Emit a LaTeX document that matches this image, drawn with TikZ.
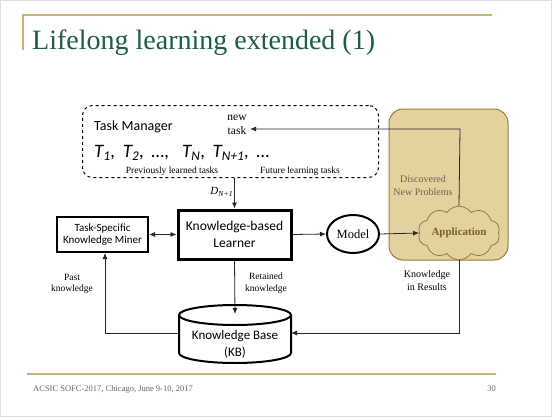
\documentclass[tikz,border=0pt]{standalone}
\usepackage{fontspec}
\setmainfont{Liberation Serif}
\setsansfont{Carlito}
\usetikzlibrary{shapes.geometric,shapes.symbols,arrows.meta}
\definecolor{titlegreen}{RGB}{28,92,72}
\definecolor{goldline}{RGB}{196,180,120}
\definecolor{appfill}{RGB}{228,210,158}
\definecolor{appdraw}{RGB}{150,125,60}
\definecolor{apptext}{RGB}{120,95,45}
\definecolor{softtext}{RGB}{110,100,85}
\tikzset{
  conn/.style={line width=0.8pt, draw=black!85},
  arr/.style={conn, -{Latex[length=6pt,width=5pt]}},
  sbox/.style={draw, line width=2pt, align=center, font=\sffamily\fontsize{11}{12.5}\selectfont},
  lbox/.style={draw, line width=3pt, align=center, font=\sffamily\fontsize{13.5}{17}\selectfont},
  small/.style={align=center, font=\fontsize{9.5}{11.5}\selectfont},
}
\newcommand{\sub}[1]{\textsubscript{#1}}
\begin{document}
\begin{tikzpicture}[x=1pt,y=-1pt]
\useasboundingbox (0,0) rectangle (553,417);
\fill[white] (0,0) rectangle (553,417);
\draw[black!12, line width=1pt] (0.5,0.5) rectangle (551,416);
% title
\draw[goldline, line width=1.2pt] (23,50) -- (23,15) -- (492,15);
\node[anchor=base west, text=titlegreen, font=\fontsize{28}{30}\selectfont, inner sep=0] (title) at (32,50) {Lifelong learning extended (1)};
% footer
\draw[goldline, line width=1.2pt] (27,374) -- (496,374);
\node[anchor=base west, text=black!60, font=\fontsize{8.5}{10}\selectfont, inner sep=0] (foot) at (33,391) {ACSIC SOFC-2017, Chicago, June 9-10, 2017};
\node[anchor=base east, text=black!60, font=\fontsize{8.5}{10}\selectfont, inner sep=0] (page) at (496,391) {30};
% application panel
\node[draw=appdraw, fill=appfill, rounded corners=14pt, line width=1pt, minimum width=119pt, minimum height=151pt] (panel) at (448.5,184.5) {};
\node[small, text=softtext, font=\fontsize{10}{13}\selectfont] (disc) at (423,186) {Discovered\\New Problems};
\node[cloud, cloud puffs=10, cloud puff arc=110, aspect=1.8, draw=appdraw, fill=appfill, line width=0.8pt, minimum width=82pt, minimum height=46pt, inner sep=0, text=apptext, font=\bfseries\fontsize{11}{13}\selectfont] (app) at (459,233) {Application};
% task manager
\node[draw, dashed, line width=1pt, rounded corners=10pt, minimum width=296pt, minimum height=72pt] (tm) at (230.5,141.5) {};
\node[anchor=west, font=\sffamily\fontsize{14}{16}\selectfont, inner sep=0] (tmlabel) at (94,127) {Task Manager};
\node[small, font=\fontsize{11.5}{13.5}\selectfont] (newtask) at (237,125) {new\\task};
\node[anchor=west, font=\sffamily\itshape\fontsize{19}{21}\selectfont, inner sep=0] (tasks) at (94,153) {T\sub{1},\, T\sub{2},\, \ldots,\;\, T\sub{N},\, T\sub{N+1},\, \ldots};
\node[small, font=\fontsize{9.5}{11}\selectfont] (prev) at (172,171) {Previously learned tasks};
\node[small, font=\fontsize{9.5}{11}\selectfont] (fut) at (300,171) {Future learning tasks};
% learner, miner, model
\node[lbox, minimum width=113pt, minimum height=49pt] (learner) at (234.5,234.5) {Knowledge-based\\Learner};
\node[sbox, minimum width=91pt, minimum height=35pt] (miner) at (102.5,234.5) {Task-Specific\\Knowledge Miner};
\node[ellipse, draw, line width=2pt, minimum width=52pt, minimum height=38pt, inner sep=0, font=\fontsize{12.5}{14}\selectfont] (model) at (353,234) {Model};
% knowledge base cylinder
\draw[line width=2pt, fill=white] (179,315) -- (179,353) arc[start angle=180, end angle=360, x radius=56pt, y radius=10pt] -- (291,315);
\draw[line width=2pt] (235,315) ellipse[x radius=56pt, y radius=10pt];
\node[align=center, font=\sffamily\fontsize{13}{17}\selectfont, inner sep=0] (kb) at (235,344) {Knowledge Base\\(KB)};
\coordinate (kbtop) at (235,314);
\coordinate (kbL) at (179,333);
\coordinate (kbR) at (291,333);
\coordinate (pk) at (105,333);
\coordinate (ntR) at (460,129);
% connectors
\draw[arr] (learner.north |- tm.south) -- (learner.north) node[pos=0.45, left, font=\itshape\fontsize{11}{12}\selectfont, inner sep=1pt] {D\sub{N+1}};
\draw[arr] (app.north) -- (ntR) -- (newtask.east |- ntR);
\draw[conn, {Latex[length=6pt,width=5pt]}-{Latex[length=6pt,width=5pt]}] (miner.east) -- (learner.west);
\draw[arr] (learner.east) -- (model.west);
\draw[arr] (model.east) -- (app.west);
\draw[arr] (learner.south) -- (kbtop);
\draw[arr] (kbL) -- (pk) -- (pk |- miner.south);
\draw[arr] (app.south) -- (459,333) -- (kbR);
% labels
\node[small] (past) at (72,284) {Past\\knowledge};
\node[small] (ret) at (266,283) {Retained\\knowledge};
\node[small, font=\fontsize{10}{13}\selectfont] (kres) at (427,281) {Knowledge\\in Results};
\end{tikzpicture}
\end{document}
